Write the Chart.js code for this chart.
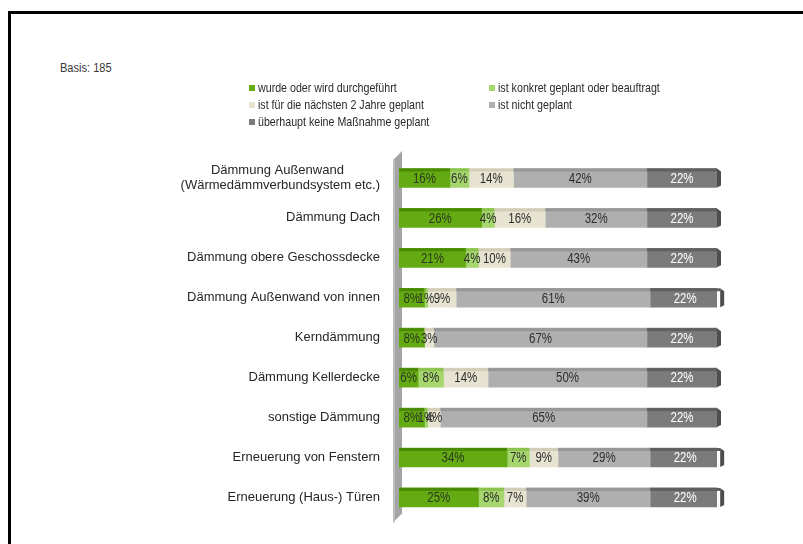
<!DOCTYPE html>
<html>
<head>
<meta charset="utf-8">
<script src="https://cdn.jsdelivr.net/npm/chart.js@4"></script>
<style>
  body { margin: 0; background: #fff; overflow: hidden; }
  #wrap { position: relative; width: 803px; height: 544px; }
  #frame {
    position: absolute; left: 8px; top: 11px; width: 900px; height: 600px;
    border-top: 3px solid #000; border-left: 3px solid #000;
  }
  #basis {
    position: absolute; left: 60px; top: 61px;
    font: 12px 'Liberation Sans', Arial, sans-serif; color: #3a3a3a;
    transform: scaleX(0.92); transform-origin: left top;
  }
  canvas { position: absolute; left: 0; top: 0; }
</style>
</head>
<body>
<div id="wrap">
  <div id="frame"></div>
  <div id="basis">Basis: 185</div>
  <canvas id="chart" width="803" height="544"></canvas>
</div>
<script>
const categories = [
  ['Dämmung Außenwand          ', '(Wärmedämmverbundsystem etc.)'],
  'Dämmung Dach',
  'Dämmung obere Geschossdecke',
  'Dämmung Außenwand von innen',
  'Kerndämmung',
  'Dämmung Kellerdecke',
  'sonstige Dämmung',
  'Erneuerung von Fenstern',
  'Erneuerung (Haus-) Türen'
]
const durchgefuehrt = [16, 26, 21, 8, 8, 6, 8, 34, 25]
const konkretGeplant = [6, 4, 4, 1, 0, 8, 1, 7, 8]
const naechsteJahre = [14, 16, 10, 9, 3, 14, 4, 9, 7]
const nichtGeplant = [42, 32, 43, 61, 67, 50, 65, 29, 39]
const keineMassnahme = [22, 22, 22, 22, 22, 22, 22, 22, 22]

const seriesNames = [
  'wurde oder wird durchgeführt',
  'ist konkret geplant oder beauftragt',
  'ist für die nächsten 2 Jahre geplant',
  'ist nicht geplant',
  'überhaupt keine Maßnahme geplant'
]

const sans = "'Liberation Sans', Arial, sans-serif"

// front colour, darker top face, label colour
const styles = [
  { fill: '#64aa12', top: '#4a8a04', text: '#2c3a22' },
  { fill: '#a6d66e', top: '#8cc24e', text: '#2e2e2e' },
  { fill: '#e7e3d1', top: '#d2cdb8', text: '#2e2e2e' },
  { fill: '#afafaf', top: '#979797', text: '#2e2e2e' },
  { fill: '#7b7b7b', top: '#606060', text: '#fff' }
]

// canvas text squeezed sideways, the way the narrow labels look
function narrowText(ctx, text, x, y, align) {
  ctx.save()
  ctx.translate(x, y)
  ctx.scale(0.82, 1)
  ctx.textAlign = align
  ctx.fillText(text, 0, 0)
  ctx.restore()
}

// side wall, top faces, end caps and the percentage labels
const threeD = {
  id: 'threeD',
  beforeDatasetsDraw(chart) {
    const { ctx, chartArea: a } = chart
    ctx.save()
    ctx.fillStyle = '#a4a4a4'
    ctx.beginPath()
    ctx.moveTo(a.left - 6, a.top + 2)
    ctx.lineTo(a.left + 3, a.top - 7)
    ctx.lineTo(a.left + 3, a.bottom - 4)
    ctx.lineTo(a.left - 6, a.bottom + 5)
    ctx.closePath()
    ctx.fill()
    ctx.fillStyle = '#bdbdbd'
    ctx.fillRect(a.left - 6, a.top + 2, 2, a.bottom - a.top + 3)
    ctx.restore()
  },
  afterDatasetsDraw(chart) {
    const ctx = chart.ctx
    const last = chart.data.datasets.length - 1
    ctx.save()
    ctx.font = '14px ' + sans
    ctx.textBaseline = 'middle'
    chart.data.datasets.forEach((ds, i) => {
      const meta = chart.getDatasetMeta(i)
      meta.data.forEach((bar, j) => {
        const v = ds.data[j]
        if (!v) return
        const p = bar.getProps(['x', 'y', 'base', 'height'], true)
        const top = p.y - p.height / 2
        const bottom = p.y + p.height / 2
        ctx.fillStyle = styles[i].top
        ctx.fillRect(p.base, top, p.x - p.base, 3)
        if (i === last) {
          ctx.fillStyle = '#4e4e4e'
          ctx.beginPath()
          ctx.moveTo(p.x, top)
          ctx.lineTo(p.x + 4, top + 3)
          ctx.lineTo(p.x + 4, bottom - 2)
          ctx.lineTo(p.x, bottom)
          ctx.closePath()
          ctx.fill()
        }
        ctx.fillStyle = styles[i].text
        narrowText(ctx, v + '%', (p.x + p.base) / 2, p.y + 1, 'center')
      })
    })
    ctx.restore()
  }
}

// two-column legend above the bars
const gridLegend = {
  id: 'gridLegend',
  afterDraw(chart) {
    const ctx = chart.ctx
    const cols = [249, 489]
    ctx.save()
    ctx.font = '13px ' + sans
    ctx.textBaseline = 'middle'
    chart.data.datasets.forEach((ds, i) => {
      const x = cols[i % 2]
      const y = 88 + Math.floor(i / 2) * 17
      ctx.fillStyle = styles[i].fill
      ctx.fillRect(x, y - 3, 6, 6)
      ctx.fillStyle = '#2a2a2a'
      narrowText(ctx, ds.label, x + 9, y, 'left')
    })
    ctx.restore()
  }
}

const datasets = [durchgefuehrt, konkretGeplant, naechsteJahre, nichtGeplant, keineMassnahme]
  .map((data, i) => ({
    label: seriesNames[i],
    data: data,
    backgroundColor: styles[i].fill,
    borderWidth: 0,
    barThickness: 19
  }))

new Chart(document.getElementById('chart'), {
  type: 'bar',
  data: { labels: categories, datasets: datasets },
  plugins: [threeD, gridLegend],
  options: {
    indexAxis: 'y',
    responsive: false,
    animation: false,
    layout: { padding: { left: 0, top: 158, right: 86, bottom: 26 } },
    plugins: { legend: { display: false }, tooltip: { enabled: false } },
    scales: {
      x: { stacked: true, min: 0, max: 100, display: false },
      y: {
        stacked: true,
        grid: { display: false },
        border: { display: false },
        afterFit(scale) { scale.width = 399 },
        ticks: {
          padding: 11,
          color: '#262626',
          font: { family: sans, size: 13 }
        }
      }
    }
  }
})
</script>
</body>
</html>
